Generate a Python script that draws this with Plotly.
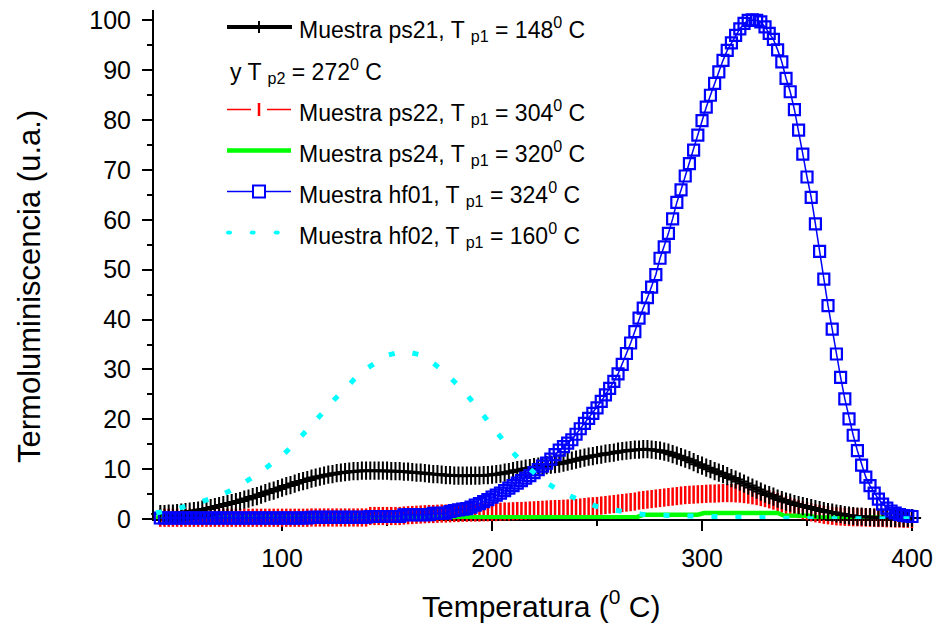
import plotly.graph_objects as go

# ---------------- data ----------------
T_dense = list(range(42, 401, 2))  # temperature grid of the dense series (°C)

ps21 = [1.0, 1.0, 1.1, 1.1, 1.2, 1.3, 1.4, 1.5, 1.6, 1.7,
        1.9, 2.0, 2.2, 2.4, 2.6, 2.8, 3.0, 3.2, 3.4, 3.6,
        3.9, 4.1, 4.4, 4.6, 4.9, 5.2, 5.5, 5.7, 6.0, 6.3,
        6.6, 6.8, 7.1, 7.4, 7.6, 7.8, 8.1, 8.3, 8.5, 8.7,
        8.9, 9.0, 9.2, 9.3, 9.4, 9.5, 9.6, 9.6, 9.7, 9.7,
        9.7, 9.7, 9.7, 9.7, 9.7, 9.6, 9.6, 9.6, 9.5, 9.5,
        9.4, 9.3, 9.3, 9.2, 9.1, 9.0, 9.0, 8.9, 8.8, 8.8,
        8.7, 8.7, 8.7, 8.7, 8.7, 8.7, 8.7, 8.8, 8.8, 8.9,
        9.0, 9.1, 9.3, 9.4, 9.6, 9.8, 9.9, 10.1, 10.2, 10.4,
        10.5, 10.6, 10.8, 10.9, 11.0, 11.1, 11.3, 11.5, 11.7, 11.9,
        12.1, 12.3, 12.5, 12.6, 12.8, 12.9, 13.1, 13.2, 13.3, 13.5,
        13.6, 13.7, 13.8, 13.9, 13.9, 14.0, 14.0, 13.9, 13.8, 13.7,
        13.5, 13.3, 13.0, 12.7, 12.4, 12.1, 11.8, 11.4, 11.0, 10.7,
        10.3, 10.0, 9.6, 9.3, 9.0, 8.6, 8.2, 7.9, 7.5, 7.1,
        6.7, 6.3, 5.9, 5.5, 5.1, 4.8, 4.5, 4.1, 3.8, 3.5,
        3.3, 3.0, 2.8, 2.6, 2.4, 2.2, 2.0, 1.8, 1.6, 1.4,
        1.3, 1.1, 1.0, 0.8, 0.7, 0.6, 0.5, 0.5, 0.4, 0.4,
        0.3, 0.3, 0.3, 0.3, 0.2, 0.2, 0.2, 0.2, 0.2, 0.2]

ps22 = [0.25, 0.25, 0.25, 0.25, 0.25, 0.25, 0.25, 0.25, 0.25, 0.25,
        0.25, 0.25, 0.25, 0.25, 0.25, 0.25, 0.25, 0.25, 0.25, 0.25,
        0.25, 0.25, 0.25, 0.25, 0.25, 0.25, 0.25, 0.25, 0.25, 0.25,
        0.25, 0.25, 0.25, 0.25, 0.25, 0.25, 0.3, 0.3, 0.3, 0.3,
        0.3, 0.3, 0.3, 0.3, 0.3, 0.3, 0.3, 0.3, 0.3, 0.3,
        0.6, 0.6, 0.6, 0.6, 0.6, 0.6, 0.6, 0.6, 0.7, 0.75,
        0.8, 0.85, 0.9, 0.95, 1.0, 1.0, 1.05, 1.1, 1.1, 1.15,
        1.2, 1.2, 1.25, 1.25, 1.3, 1.3, 1.3, 1.35, 1.35, 1.4,
        1.4, 1.45, 1.5, 1.5, 1.55, 1.6, 1.6, 1.65, 1.7, 1.75,
        1.8, 1.85, 1.9, 1.95, 2.0, 2.0, 2.05, 2.1, 2.15, 2.2,
        2.3, 2.4, 2.5, 2.55, 2.6, 2.7, 2.8, 2.9, 3.0, 3.1,
        3.2, 3.3, 3.4, 3.5, 3.7, 3.8, 3.9, 4.0, 4.1, 4.2,
        4.3, 4.4, 4.5, 4.6, 4.7, 4.8, 4.85, 4.9, 4.95, 5.0,
        5.05, 5.1, 5.1, 5.15, 5.2, 5.2, 5.2, 5.15, 5.1, 5.0,
        4.9, 4.75, 4.6, 4.4, 4.2, 3.95, 3.7, 3.4, 3.1, 2.8,
        2.5, 2.2, 2.0, 1.75, 1.55, 1.35, 1.15, 1.0, 0.85, 0.75,
        0.65, 0.55, 0.5, 0.45, 0.4, 0.35, 0.35, 0.3, 0.3, 0.25,
        0.25, 0.2, 0.2, 0.15, 0.15, 0.1, 0.1, 0.05, 0.05, 0.0]

hf01 = [0.2, 0.2, 0.2, 0.2, 0.2, 0.2, 0.2, 0.2, 0.2, 0.2,
        0.2, 0.2, 0.2, 0.2, 0.2, 0.2, 0.2, 0.2, 0.2, 0.2,
        0.2, 0.2, 0.2, 0.2, 0.2, 0.2, 0.2, 0.2, 0.2, 0.2,
        0.2, 0.2, 0.2, 0.2, 0.2, 0.2,
        0.35, 0.35, 0.35, 0.35, 0.35, 0.35, 0.35, 0.35, 0.35, 0.35,
        0.35, 0.35, 0.35, 0.35,
        0.5, 0.5, 0.5, 0.5, 0.5, 0.5, 0.5, 0.5,
        0.85, 0.85, 0.85, 0.85, 0.85, 0.85, 0.85,
        1.15, 1.15, 1.15, 1.15,
        1.5, 1.7, 1.85, 2.0, 2.1, 2.4, 2.8, 3.1, 3.5, 3.9,
        4.4, 4.8, 5.2, 5.7, 6.2, 6.7, 7.2, 7.7, 8.2, 8.7,
        9.3, 9.9, 10.6, 11.2, 12.0, 12.9, 13.8, 14.5, 15.2, 15.9,
        17.0, 18.1, 19.2, 20.2, 21.2, 22.3, 23.6, 24.9, 26.2, 27.6,
        29.1, 31.0, 33.2, 35.3, 37.6, 40.3, 42.3, 44.4, 46.5, 49.0,
        52.3, 54.6, 57.3, 60.2, 63.5, 66.0, 68.8, 71.3, 74.0, 77.0,
        79.9, 82.6, 85.0, 87.4, 89.7, 92.0, 94.0, 95.5, 97.0, 98.3,
        99.4, 100.0, 100.1, 100.0, 99.7, 98.7, 97.4, 96.2, 94.1, 91.7,
        88.4, 85.7, 82.1, 78.0, 73.2, 68.6, 64.5, 59.2, 53.7, 48.1,
        42.8, 38.1, 33.1, 28.4, 24.1, 20.1, 16.8, 13.7, 10.8, 8.4,
        6.7, 5.2, 4.0, 3.0, 2.2, 1.6, 1.2, 0.9, 0.7, 0.6,
        0.5]

T_ps24 = [40, 60, 80, 100, 120, 140, 160, 180, 200, 220, 240, 260, 269, 272, 280,
          290, 298, 301, 310, 320, 330, 336, 339, 345, 351, 354, 360, 370, 380, 388]
ps24 = [0.3, 0.3, 0.3, 0.3, 0.3, 0.3, 0.3, 0.3, 0.35, 0.35, 0.4, 0.4, 0.4, 0.85, 0.85,
        0.85, 0.85, 1.2, 1.2, 1.2, 1.25, 1.2, 0.7, 0.65, 0.65, 0.35, 0.35, 0.3, 0.3, 0.3]

T_hf02 = [40, 45, 50, 55, 60, 65, 70, 75, 80, 85, 90, 95, 100, 105, 110, 115, 120,
          125, 130, 135, 140, 145, 150, 155, 160, 165, 170, 175, 180, 185, 190, 195,
          200, 205, 210, 215, 220, 225, 230, 235, 240, 245, 250, 255, 260, 265, 270,
          275, 280, 290, 300, 310, 320, 330, 340, 350, 360, 370, 380, 390, 400]
hf02 = [1.2, 1.6, 2.0, 2.6, 3.2, 3.9, 4.7, 5.6, 6.8, 8.1, 9.5, 11.0, 12.7, 14.7, 16.9,
        19.2, 21.6, 24.0, 26.3, 28.3, 30.1, 31.6, 32.8, 33.4, 33.5, 33.0, 31.9, 30.3,
        28.5, 26.4, 23.9, 21.3, 18.5, 15.8, 13.3, 11.1, 9.2, 7.5, 6.2, 5.0, 4.1, 3.2,
        2.5, 2.0, 1.6, 1.2, 1.0, 0.8, 0.75, 0.7, 0.4, 0.35, 0.3, 0.3, 0.15, 0.05, 0.05,
        0.05, 0.05, 0.05, 0.05]

x_ticks = [100, 200, 300, 400]
x_minor = [50, 150, 250, 350]
y_ticks = [0, 10, 20, 30, 40, 50, 60, 70, 80, 90, 100]
y_minor = [5, 15, 25, 35, 45, 55, 65, 75, 85, 95]

legend_texts = [
    "Muestra ps21, T <sub>p1</sub> = 148<sup>0</sup> C",
    "y T <sub>p2</sub> = 272<sup>0</sup> C",
    "Muestra ps22, T <sub>p1</sub> = 304<sup>0</sup> C",
    "Muestra ps24, T <sub>p1</sub> = 320<sup>0</sup> C",
    "Muestra hf01, T <sub>p1</sub> = 324<sup>0</sup> C",
    "Muestra hf02, T <sub>p1</sub> = 160<sup>0</sup> C",
]
x_title = "Temperatura (<sup>0</sup> C)"
y_title = "Termoluminiscencia (u.a.)"

assert len(ps21) == len(T_dense) == len(ps22) == len(hf01)
assert len(T_ps24) == len(ps24) and len(T_hf02) == len(hf02)

# ---------------- layout helpers ----------------
W, H = 936, 629
L, R, TOP, B = 154, 24, 10, 110
PW, PH = W - L - R, H - TOP - B
FONT = "Liberation Sans, Arial, sans-serif"


def px(x):
    return (x - L) / PW


def py(y):
    return (H - B - y) / PH


fig = go.Figure()

fig.add_trace(go.Scatter(x=T_dense, y=ps22, mode="markers", cliponaxis=False,
                         marker=dict(symbol="line-ns", size=13, color="#ff0000",
                                     line=dict(color="#ff0000", width=2.5))))
fig.add_trace(go.Scatter(x=T_ps24, y=ps24, mode="lines", cliponaxis=False,
                         line=dict(color="#00ff00", width=4.5)))
fig.add_trace(go.Scatter(x=T_dense, y=ps21, mode="lines+markers", cliponaxis=False,
                         line=dict(color="black", width=3),
                         marker=dict(symbol="cross-thin", size=13, color="black",
                                     line=dict(color="black", width=2))))
fig.add_trace(go.Scatter(x=T_dense, y=hf01, mode="lines+markers", cliponaxis=False,
                         line=dict(color="#0000ff", width=1.5),
                         marker=dict(symbol="square-open", size=11, color="#0000ff",
                                     line=dict(color="#0000ff", width=2.2))))
fig.add_trace(go.Scatter(x=T_hf02, y=hf02, mode="lines", cliponaxis=False,
                         line=dict(color="#00ffff", width=5, dash="6px,18px")))

axis_common = dict(showline=True, linecolor="black", linewidth=2, ticks="outside",
                   ticklen=10, tickwidth=2, tickcolor="black", showgrid=False,
                   zeroline=False, layer="below traces", automargin=False,
                   tickfont=dict(family=FONT, size=25, color="black"))

fig.update_xaxes(range=[39, 400], tickvals=x_ticks, ticklabelstandoff=6,
                 minor=dict(tickvals=x_minor, ticks="outside", ticklen=5, tickwidth=2,
                            tickcolor="black", showgrid=False),
                 **axis_common)
fig.update_yaxes(range=[0, 102.1], tickvals=y_ticks, ticklabelstandoff=6,
                 minor=dict(tickvals=y_minor, ticks="outside", ticklen=5, tickwidth=2,
                            tickcolor="black", showgrid=False),
                 **axis_common)

# ---------------- manual legend ----------------
shapes = []


def hline(x0, x1, y, color, width):
    shapes.append(dict(type="line", xref="paper", yref="paper", x0=px(x0), x1=px(x1),
                       y0=py(y), y1=py(y), line=dict(color=color, width=width)))


def vline(x, y0, y1, color, width):
    shapes.append(dict(type="line", xref="paper", yref="paper", x0=px(x), x1=px(x),
                       y0=py(y0), y1=py(y1), line=dict(color=color, width=width)))


rows = [27, 68.5, 109.5, 150.5, 191.5, 232.5]
# ps21
hline(227, 292, rows[0], "black", 4)
vline(259, rows[0] - 6, rows[0] + 6, "black", 2)
# ps22
hline(227, 251, rows[2], "#ff0000", 1.5)
hline(267, 291, rows[2], "#ff0000", 1.5)
vline(259, rows[2] - 6.5, rows[2] + 6.5, "#ff0000", 2.5)
# ps24
hline(227, 291, rows[3], "#00ff00", 4.5)
# hf01
hline(227, 253, rows[4], "#0000ff", 1.5)
hline(265, 291, rows[4], "#0000ff", 1.5)
shapes.append(dict(type="rect", xref="paper", yref="paper", x0=px(253), x1=px(265),
                   y0=py(rows[4] - 6), y1=py(rows[4] + 6),
                   line=dict(color="#0000ff", width=2)))
# hf02
for cx in (229, 252.7, 276.7):
    shapes.append(dict(type="circle", xref="paper", yref="paper",
                       x0=px(cx - 3), x1=px(cx + 3),
                       y0=py(rows[5] - 2), y1=py(rows[5] + 2),
                       fillcolor="#00ffff", line=dict(color="#00ffff", width=0)))

annotations = []
for i, txt in enumerate(legend_texts):
    annotations.append(dict(xref="paper", yref="paper", x=px(228 if i == 1 else 297),
                            y=py(rows[i] + 2), xanchor="left", yanchor="middle",
                            text=txt, showarrow=False,
                            font=dict(family=FONT, size=23, color="black")))

annotations.append(dict(xref="paper", yref="paper", x=px(541), y=py(604),
                        xanchor="center", yanchor="middle", text=x_title,
                        showarrow=False, font=dict(family=FONT, size=30, color="black")))
annotations.append(dict(xref="paper", yref="paper", x=px(29), y=py(287),
                        xanchor="center", yanchor="middle", text=y_title, textangle=-90,
                        showarrow=False, font=dict(family=FONT, size=31, color="black")))

fig.update_layout(width=W, height=H, margin=dict(l=L, r=R, t=TOP, b=B),
                  paper_bgcolor="white", plot_bgcolor="white", showlegend=False,
                  font=dict(family=FONT, color="black"),
                  shapes=shapes, annotations=annotations)

fig.write_html("out.html")
